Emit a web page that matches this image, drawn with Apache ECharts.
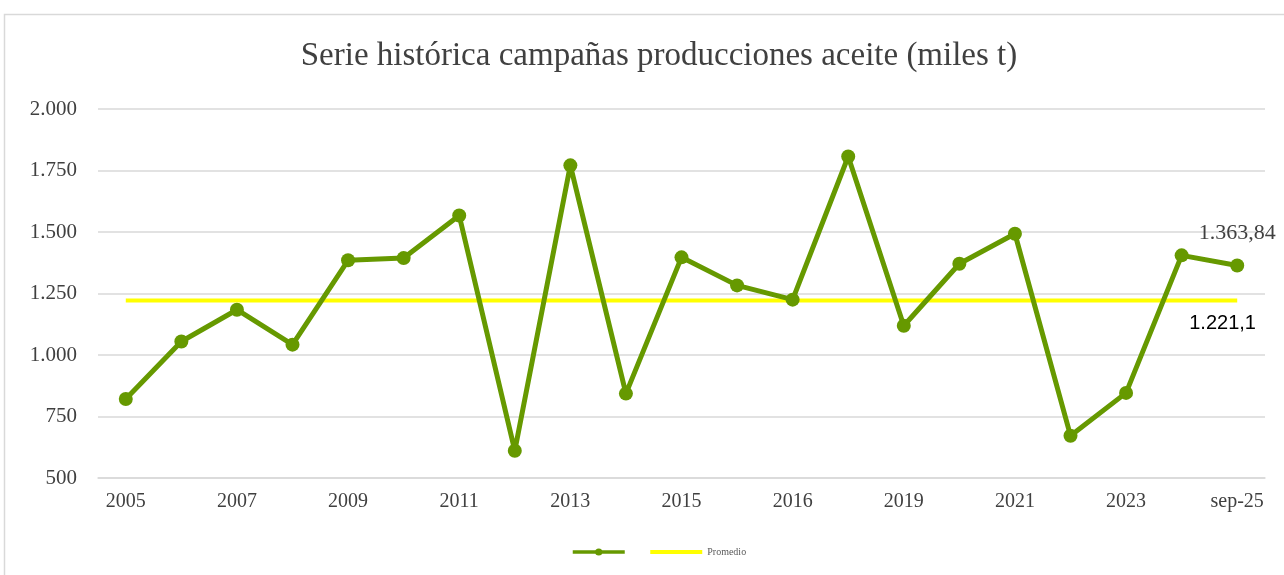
<!DOCTYPE html>
<html>
<head>
<meta charset="utf-8">
<script src="https://cdn.jsdelivr.net/npm/echarts@6/dist/echarts.min.js"></script>
<style>
  html, body { margin: 0; padding: 0; background: #fff; }
  #chart { width: 1284px; height: 575px; }
</style>
</head>
<body>
<div id="chart"></div>
<script>
// campañas (solo se ve una de cada dos etiquetas)
const categories = ['2005', '2006', '2007', '2008', '2009', '2010', '2011', '2012', '2013', '2014',
  '2015', '2016', '2016', '2018', '2019', '2020', '2021', '2022', '2023', '2024', 'sep-25'];
// producción de aceite, miles t
const produccion = [821, 1055, 1184, 1042, 1385, 1394, 1567, 611, 1771, 843,
  1397, 1283, 1225, 1807, 1119, 1371, 1493, 672, 846, 1405, 1363.84];
const promedio = 1221.1;
const yTicks = [500, 750, 1000, 1250, 1500, 1750, 2000];

// formato español: 1.363,84
function fmt(v, dec) {
  let parts = v.toFixed(dec).split('.');
  let ent = parts[0].replace(/\B(?=(\d{3})+(?!\d))/g, '.');
  return parts[1] ? ent + ',' + parts[1] : ent;
}

const last = produccion.length - 1;
const serif = 'Liberation Serif';

let chart = echarts.init(document.getElementById('chart'));
chart.setOption({
  animation: false,
  graphic: [{
    type: 'rect',
    left: 2, top: 12,
    shape: { width: 1300, height: 600 },
    style: { fill: 'none', stroke: '#d9d9d9', lineWidth: 1.5 },
    silent: true
  }],
  title: {
    text: 'Serie histórica campañas producciones aceite (miles t)',
    left: 654, top: 35, textAlign: 'center',
    textStyle: { fontFamily: serif, fontSize: 33, fontWeight: 'normal', color: '#404040' }
  },
  legend: {
    left: 566, top: 542,
    itemWidth: 52, itemHeight: 9, itemGap: 18,
    textStyle: { fontFamily: serif, fontSize: 10, color: '#595959' },
    data: [
      { name: ' ', lineStyle: { width: 3.5 } },
      { name: 'Promedio', icon: 'path://M0,0H52V4H0Z' }
    ]
  },
  grid: { left: 98, right: 19, top: 109, bottom: 97, containLabel: false },
  xAxis: {
    type: 'category',
    data: categories,
    boundaryGap: true,
    axisTick: { show: false },
    axisLine: { lineStyle: { color: '#d9d9d9', width: 1.5 } },
    axisLabel: { interval: 1, margin: 14, fontFamily: serif, fontSize: 20, color: '#404040' }
  },
  yAxis: {
    type: 'value',
    min: yTicks[0], max: yTicks[yTicks.length - 1], interval: 250,
    axisLine: { show: false },
    axisTick: { show: false },
    splitLine: { lineStyle: { color: '#d9d9d9', width: 1.5 } },
    axisLabel: { margin: 21, fontFamily: serif, fontSize: 21, color: '#404040',
      formatter: v => fmt(v, 0) }
  },
  series: [
    {
      name: ' ',
      type: 'line',
      data: produccion.map((v, i) => i === last ? {
        value: v,
        label: { show: true, position: 'top', distance: 14, fontFamily: serif, fontSize: 22,
          color: '#404040', formatter: p => fmt(p.value, 2) }
      } : v),
      symbol: 'circle',
      symbolSize: 14,
      lineStyle: { color: '#669900', width: 5 },
      itemStyle: { color: '#669900' },
      z: 3
    },
    {
      name: 'Promedio',
      type: 'line',
      data: categories.map(() => promedio),
      symbol: 'none',
      lineStyle: { color: '#ffff00', width: 4 },
      itemStyle: { color: '#ffff00' },
      endLabel: {
        show: true, distance: 5, offset: [-53, 23],
        fontFamily: 'Liberation Sans', fontSize: 20, color: '#000',
        formatter: p => fmt(p.value, 1)
      },
      z: 2
    }
  ]
});
</script>
</body>
</html>
